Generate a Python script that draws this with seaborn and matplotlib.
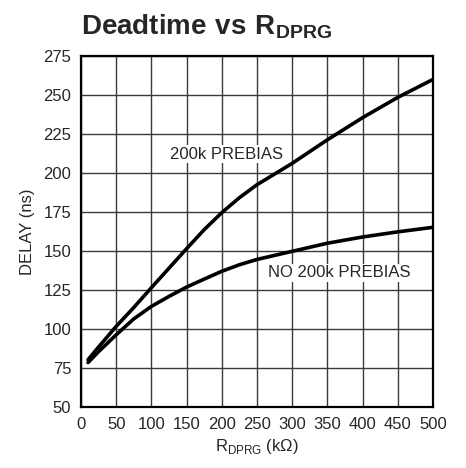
import numpy as np
import pandas as pd
import matplotlib
matplotlib.use("Agg")
import matplotlib.pyplot as plt
import seaborn as sns
from matplotlib import font_manager

# values
r_dprg = [10, 25, 50, 75, 100, 125, 150, 175, 200, 225, 250, 300, 350, 400, 450, 500]
delay_prebias = [80.3, 88.5, 101.7, 113.8, 126.5, 139, 151.5, 163.7, 174.6, 184.2, 192.5,
                 206.2, 221.3, 235.5, 248.5, 260]
delay_no_prebias = [78.5, 85.5, 96.3, 106.5, 114.5, 120.9, 126.9, 132, 137, 141.2, 144.6,
                    149.8, 155, 159, 162.3, 165.2]
x_ticks = [0, 50, 100, 150, 200, 250, 300, 350, 400, 450, 500]
y_ticks = [50, 75, 100, 125, 150, 175, 200, 225, 250, 275]

df = pd.DataFrame({
    "R": r_dprg * 2,
    "Delay": delay_prebias + delay_no_prebias,
    "Curve": ["200k PREBIAS"] * len(r_dprg) + ["NO 200k PREBIAS"] * len(r_dprg),
})

sns.set_style("white")
names = {f.name for f in font_manager.fontManager.ttflist}
narrow = "Liberation Sans Narrow" if "Liberation Sans Narrow" in names else "Liberation Sans"
plt.rcParams["font.family"] = [narrow, "DejaVu Sans"]
plt.rcParams["mathtext.fontset"] = "custom"
plt.rcParams["mathtext.rm"] = narrow
plt.rcParams["mathtext.bf"] = narrow + ":bold"

fig = plt.figure(figsize=(4.66, 4.68), dpi=100)
ax = fig.add_axes([0.1738, 0.1303, 0.7554, 0.75])

sns.lineplot(data=df, x="R", y="Delay", hue="Curve", palette=["black", "black"],
             linewidth=2.6, legend=False, ax=ax, zorder=3)

ax.set_xlim(0, 500)
ax.set_ylim(50, 275)
ax.set_xticks(x_ticks)
ax.set_yticks(y_ticks)
ax.grid(True, color="#3a3a3a", linewidth=1.0)
for s in ax.spines.values():
    s.set_color("black")
    s.set_linewidth(1.6)
ax.tick_params(axis="both", labelsize=12, length=0, pad=7)

ax.set_xlabel(r"R$_\mathrm{DPRG}$ (kΩ)", fontsize=12, labelpad=4)
ax.set_ylabel("DELAY (ns)", fontsize=12, labelpad=6)

ax.text(206, 212, "200k PREBIAS", fontsize=12, ha="center", va="center",
        bbox=dict(facecolor="white", edgecolor="none", pad=1), zorder=4)
ax.text(367, 136, "NO 200k PREBIAS", fontsize=12, ha="center", va="center",
        bbox=dict(facecolor="white", edgecolor="none", pad=1), zorder=4)

fig.text(0.174, 0.943, r"$\mathbf{Deadtime\ vs\ R_{DPRG}}$", fontsize=20,
         ha="left", va="center")

fig.savefig("out.png", dpi=100, facecolor="white")
